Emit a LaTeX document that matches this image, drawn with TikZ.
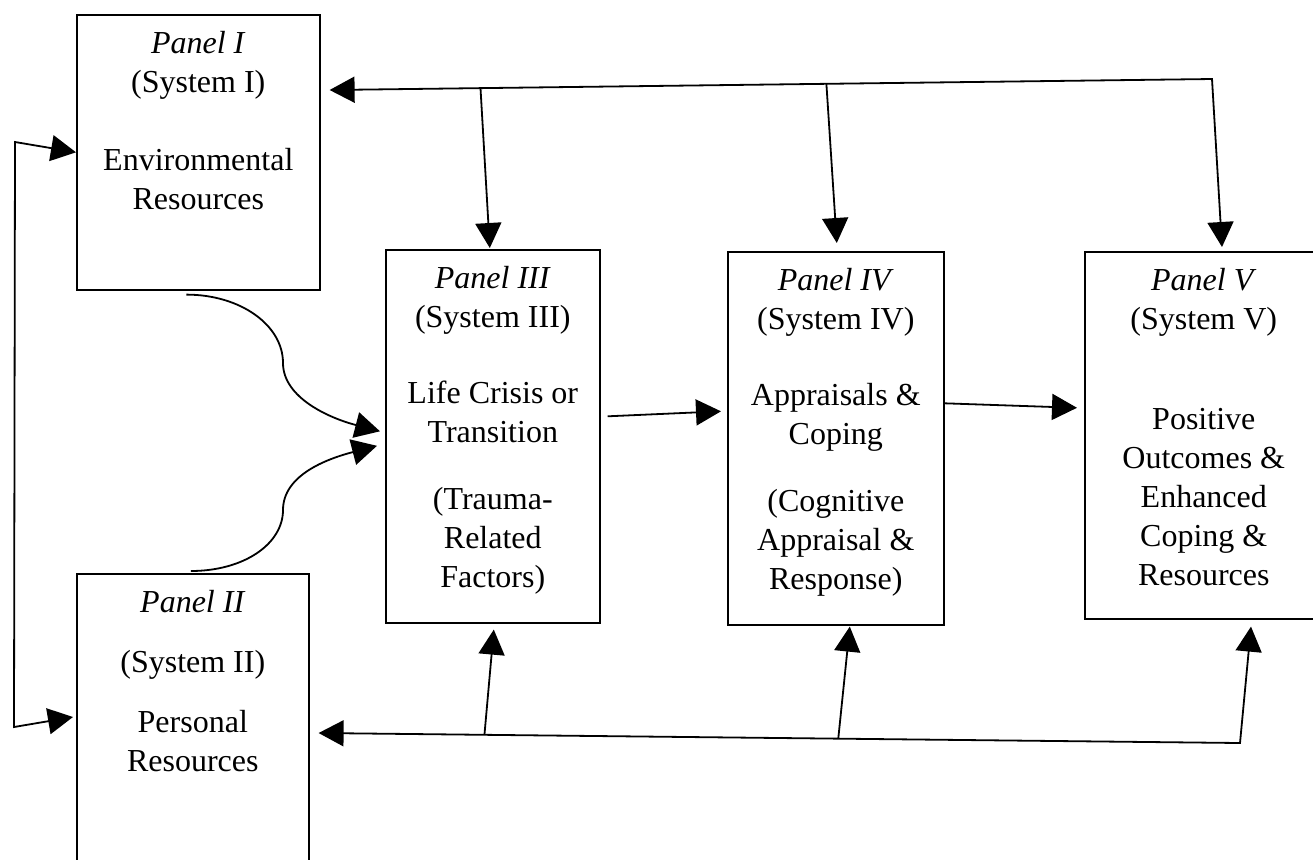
\documentclass[tikz,border=0pt]{standalone}
\usepackage{fontspec}
\setmainfont{Liberation Serif}
\usetikzlibrary{arrows.meta, positioning, calc}

\begin{document}
\begin{tikzpicture}[
	x=0.5pt, y=-0.5pt,
	>={Triangle[length=12.5pt, width=13pt]},
	panel/.style = {draw, rectangle, line width=0.8pt, anchor=north west, inner sep=0pt},
	paneltext/.style = {anchor=north, align=center, inner sep=0pt, yshift=-8.6pt,
		font=\fontsize{16}{19.5}\selectfont},
	link/.style = {line width=0.9pt}
	]
	
	\useasboundingbox (0,0) rectangle (1313,859);
	\clip (0,0) rectangle (1313,859);
	
	%% ── Panels ─────────────────────────────────────────────────────
	\node [panel, minimum width=121.5pt, minimum height=137.5pt] (env)     at (76,14)   {};
	\node [panel, minimum width=116pt,   minimum height=163.5pt] (pers)    at (76,573)  {};
	\node [panel, minimum width=107pt,   minimum height=186.5pt] (crisis)  at (385,249) {};
	\node [panel, minimum width=108pt,   minimum height=186.5pt] (coping)  at (727,251) {};
	\node [panel, minimum width=119pt,   minimum height=183.5pt] (outcome) at (1084,251) {};
	
	\node [paneltext] (envtext) at (env.north)
	{\textit{Panel I}\\(System I)\\[19.5pt]Environmental\\Resources};
	\node [paneltext] (perstext) at (pers.north)
	{\textit{Panel II}\\[10.5pt](System II)\\[10.5pt]Personal\\Resources};
	\node [paneltext] (crisistext) at (crisis.north)
	{\textit{Panel III}\\(System III)\\[18.5pt]Life Crisis or\\Transition\\[14pt](Trauma-\\Related\\Factors)};
	\node [paneltext] (copingtext) at (coping.north)
	{\textit{Panel IV}\\(System IV)\\[18.5pt]Appraisals \&\\Coping\\[14pt](Cognitive\\Appraisal \&\\Response)};
	\node [paneltext] (outcometext) at (outcome.north)
	{\textit{Panel V}\\(System V)\\[30.5pt]Positive\\Outcomes \&\\Enhanced\\Coping \&\\Resources};
	
	%% ── Forward path ───────────────────────────────────────────────
	\draw [link, ->] ($(crisis.east)+(7,-20)$) -- ($(coping.west)+(-6,-27)$);
	\draw [link, ->] ($(coping.east)+(0,-35)$) -- ($(outcome.west)+(-7,-27.5)$);
	
	% resources merging into the crisis panel
	\coordinate (midU) at (283,363);
	\coordinate (midD) at (283,510);
	\draw [link, ->] ($(env.south)+(-12,4)$) .. controls +(54,0) and +(0,-38) .. (midU)
	.. controls +(0,35) and +(-50,-13) .. ($(crisis.west)+(-5,-5)$);
	\draw [link, ->] ($(pers.north)+(-2,-2)$) .. controls +(53,0) and +(0,34) .. (midD)
	.. controls +(0,-35) and +(-50,13) .. ($(crisis.west)+(-8,9.5)$);
	
	%% ── Top feedback bar ───────────────────────────────────────────
	\coordinate (topL) at ($(env.north east)+(9,76)$);
	\coordinate (topR) at (1212,79);
	\draw [link, <->] (topL) -- (topR) -- ($(outcome.north west)+(138,-4)$);
	\draw [link, ->] ($(topL)!0.171!(topR)$) -- ($(crisis.north)+(-3,-1)$);
	\draw [link, ->] ($(topL)!0.563!(topR)$) -- ($(coping.north)+(1,-8)$);
	
	%% ── Bottom feedback bar ────────────────────────────────────────
	\coordinate (botL) at ($(pers.north east)+(9,160)$);
	\coordinate (botR) at (1240,743);
	\draw [link, <->] (botL) -- (botR) -- ($(outcome.south west)+(167,7)$);
	\draw [link, ->] ($(botL)!0.18!(botR)$) -- ($(crisis.south)+(1,6)$);
	\draw [link, ->] ($(botL)!0.564!(botR)$) -- ($(coping.south)+(14,1)$);
	
	%% ── Loop between panels I and II ───────────────────────────────
	\coordinate (loopT) at (15,142);
	\coordinate (loopB) at (14,727);
	\draw [link, <->] (env.west) -- (loopT) -- (loopB) -- ($(pers.north west)+(-3,144)$);
	
\end{tikzpicture}
\end{document}
